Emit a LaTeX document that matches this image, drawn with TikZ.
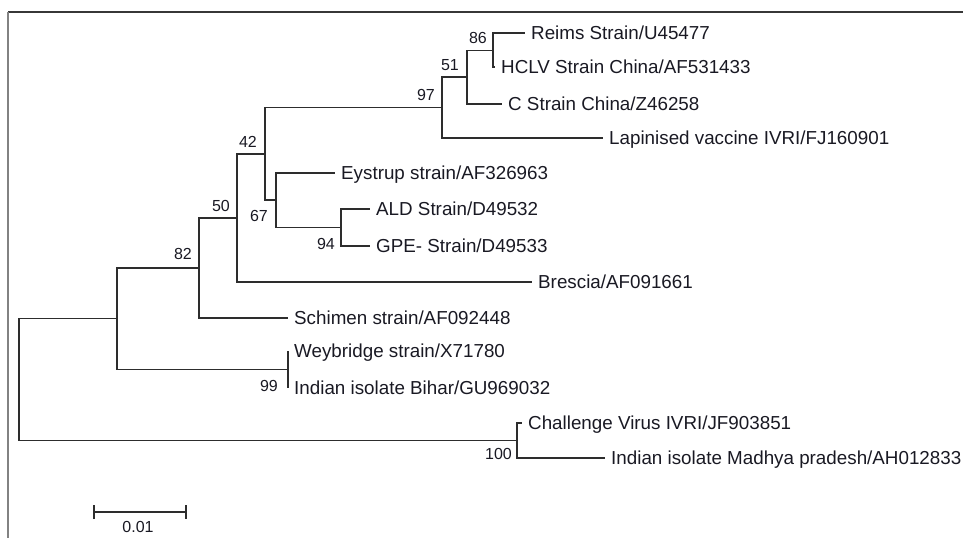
\documentclass[tikz,border=0pt]{standalone}
\usepackage{fontspec}
\setmainfont{Liberation Sans}
\usetikzlibrary{arrows.meta, calc, positioning}
\definecolor{treeLine}{RGB}{45, 45, 45}
\definecolor{leafText}{RGB}{25, 25, 35}
\definecolor{frameDark}{RGB}{55, 55, 55}
\definecolor{frameLight}{RGB}{130,130,130}

\begin{document}
\begin{tikzpicture}[x=1pt, y=-1pt,
  leaf/.style={anchor=west, inner sep=0pt, text height=13.4pt, text depth=0pt,
    font=\fontsize{18.8}{20}\selectfont, text=leafText},
  boot/.style={inner sep=0pt, font=\fontsize{16}{17}\selectfont, text=leafText},
  br/.style={treeLine, line width=1.6pt},
]
\useasboundingbox (0,0) rectangle (963,538);

%% Frame (top and left only)
\draw[frameDark, line width=1.5pt] (8,12) -- (963,12);
\draw[frameLight, line width=1.5pt] (8,12) -- (8,538);

%% Leaf tips
\foreach \nm/\x/\y in {
  reims/525/33, hclv/495/67, cstr/502/104, lapin/603/138,
  eys/335/173, ald/370/209, gpe/370/246, bres/532/282,
  schim/288/318, wey/288/351, bihar/288/388,
  chal/522/423, mp/605/458}{
  \coordinate (t-\nm) at (\x,\y);
}

%% Leaf labels
\node[leaf, right=6pt of t-reims] (reims) {Reims Strain/U45477};
\node[leaf, right=6pt of t-hclv]  (hclv)  {HCLV Strain China/AF531433};
\node[leaf, right=6pt of t-cstr]  (cstr)  {C Strain China/Z46258};
\node[leaf, right=6pt of t-lapin] (lapin) {Lapinised vaccine IVRI/FJ160901};
\node[leaf, right=6pt of t-eys]   (eys)   {Eystrup strain/AF326963};
\node[leaf, right=6pt of t-ald]   (ald)   {ALD Strain/D49532};
\node[leaf, right=6pt of t-gpe]   (gpe)   {GPE- Strain/D49533};
\node[leaf, right=6pt of t-bres]  (bres)  {Brescia/AF091661};
\node[leaf, right=6pt of t-schim] (schim) {Schimen strain/AF092448};
\node[leaf, right=6pt of t-wey]   (wey)   {Weybridge strain/X71780};
\node[leaf, right=6pt of t-bihar] (bihar) {Indian isolate Bihar/GU969032};
\node[leaf, right=6pt of t-chal]  (chal)  {Challenge Virus IVRI/JF903851};
\node[leaf, right=6pt of t-mp]    (mp)    {Indian isolate Madhya pradesh/AH012833};

%% Internal nodes
\coordinate (n86)  at (493, 50.5);
\coordinate (n51)  at (467, 77);
\coordinate (n97)  at (442,107.5);
\coordinate (n67)  at (276,200);
\coordinate (n94)  at (341,227.5);
\coordinate (n42)  at (265,154);
\coordinate (n50)  at (237,218);
\coordinate (n82)  at (199,268);
\coordinate (n99)  at (288,369.5);
\coordinate (nA)   at (117,318.5);
\coordinate (n100) at (517,440.5);
\coordinate (root) at (19,380);

%% Branches
\foreach \a/\b in {
  n86/t-reims, n86/t-hclv, n51/n86, n51/t-cstr, n97/n51, n97/t-lapin,
  n94/t-ald, n94/t-gpe, n67/t-eys, n67/n94, n42/n97, n42/n67,
  n50/n42, n50/t-bres, n82/n50, n82/t-schim,
  n99/t-wey, n99/t-bihar, nA/n82, nA/n99,
  n100/t-chal, n100/t-mp, root/nA, root/n100}{
  \draw[br] (\a) |- (\b);
}

%% Bootstrap values
\node[boot, anchor=south east] (b86) at ([shift={(-6,-7)}]n86) {86};
\node[boot, anchor=south east] (b51) at ([shift={(-8,-6)}]n51) {51};
\node[boot, anchor=south east] (b97) at ([shift={(-7,-7)}]n97) {97};
\node[boot, anchor=south east] (b42) at ([shift={(-8,-6)}]n42) {42};
\node[boot, anchor=south east] (b50) at ([shift={(-7,-6)}]n50) {50};
\node[boot, anchor=south east] (b82) at ([shift={(-7,-8)}]n82) {82};
\node[boot, anchor=north east] (b67) at ([shift={(-8,10)}]n67) {67};
\node[boot, anchor=north east] (b94) at ([shift={(-6,10.5)}]n94) {94};
\node[boot, anchor=north east] (b99) at ([shift={(-10,10.5)}]n99) {99};
\node[boot, anchor=north east] (b100) at ([shift={(-5,7.5)}]n100) {100};

%% Scale bar
\coordinate (sbL) at (93,512);
\coordinate (sbR) at (187,512);
\draw[br, {Bar[width=14pt]}-{Bar[width=14pt]}] (sbL) -- (sbR);
\node[boot, anchor=north] (sbLab) at ($(sbL)!0.5!(sbR)+(-2,9)$) {0.01};
\end{tikzpicture}
\end{document}
